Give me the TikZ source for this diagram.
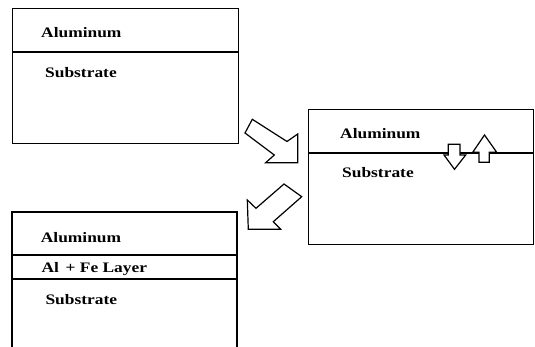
\documentclass[tikz,border=0pt]{standalone}
\usepackage{fontspec}
\newfontfamily\labfont[FakeStretch=1.2]{Liberation Serif}
\begin{document}
\begin{tikzpicture}[x=1pt,y=-1pt,
  box/.style={draw, line width=1.2pt, inner sep=0, anchor=north west},
  layer/.style={line width=1.2pt},
  lbl/.style={anchor=base west, inner sep=0, font=\labfont\bfseries\fontsize{14.5}{17}\selectfont},
  blk/.style={draw, fill=white, line width=1.2pt, line join=miter}]
\useasboundingbox (0,0) rectangle (535,347);
% box 1
\node[box, minimum width=226pt, minimum height=135pt] (b1) at (12,8) {};
\draw[layer] (12,52) -- (238,52);
\node[lbl] (b1al) at (41,37.7) {Aluminum};
\node[lbl] (b1sub) at (45,77.3) {Substrate};
% box 2
\node[box, minimum width=225pt, minimum height=135pt] (b2) at (308,109) {};
\draw[layer] (308,153) -- (533,153);
\node[lbl] (b2al) at (340,138.3) {Aluminum};
\node[lbl] (b2sub) at (342,177.3) {Substrate};
% box 3 (cut at the bottom)
\draw[layer] (12,350) -- (12,212) -- (237,212) -- (237,350);
\draw[layer] (12,255) -- (237,255);
\draw[layer] (12,279) -- (237,279);
\node[lbl] (b3al) at (40.7,242.3) {Aluminum};
\node[lbl] (b3fe) at (41.3,272.3) {Al\, + Fe Layer};
\node[lbl] (b3sub) at (45.3,304) {Substrate};
% block arrows
\draw[blk] (245,133) -- (252.3,119.3) -- (287,141.5) -- (297.7,134) -- (297.7,162.7) -- (265.7,162.7) -- (274.3,155) -- cycle;
\draw[blk] (284,184) -- (301.7,196.7) -- (273.3,221.7) -- (280.7,229.3) -- (248.3,229.3) -- (247.3,200) -- (256,208.3) -- cycle;
% small arrows
\draw[blk] (448.3,144.3) -- (460,144.3) -- (460,155) -- (465.7,155) -- (454.5,169.3) -- (444,155) -- (448.3,155) -- cycle;
\draw[blk] (479,162.3) -- (489.3,162.3) -- (489.3,152.3) -- (496.7,152.3) -- (484.5,135) -- (472.7,152.3) -- (479,152.3) -- cycle;
\end{tikzpicture}
\end{document}
